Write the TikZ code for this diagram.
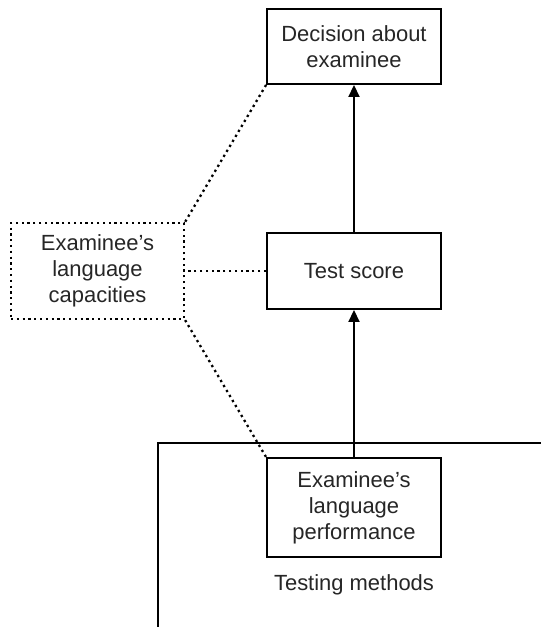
\documentclass[tikz,border=0pt]{standalone}
\usepackage{fontspec}
\setmainfont{Liberation Sans}
\usetikzlibrary{arrows.meta}
\tikzset{
  stage/.style = {draw, line width=1.1pt, minimum width=3.48cm, align=center,
                  font=\fontsize{12.5}{14.8}\selectfont, text=black!85},
  capbox/.style = {draw, dotted, line width=1.3pt, minimum width=3.46cm, minimum height=1.92cm,
                  align=center, font=\fontsize{12.5}{14.8}\selectfont, text=black!85},
  link/.style = {dotted, line width=1.3pt},
  flow/.style = {line width=1.1pt, -{Triangle[length=0.24cm, width=0.22cm]}}
}
\begin{document}
\begin{tikzpicture}[x=0.02cm, y=-0.02cm]
       \useasboundingbox (0,0) rectangle (541,627);
       \node (decision) at (354,46.5) [stage, minimum height=1.5cm] {Decision about\\examinee};
       \node (score) at (354,271) [stage, minimum height=1.52cm] {Test score};
       \node (perf) at (354,507.5) [stage, minimum height=1.98cm] {Examinee's\\language\\performance};
       \node (capac) at (97.5,271) [capbox] {Examinee's\\language\\capacities};
       \node (methods) at (354,585) [font=\fontsize{12.5}{14.8}\selectfont, text=black!85] {Testing methods};
       \coordinate (frameA) at (158,627);
       \coordinate (frameB) at (158,443);
       \coordinate (frameC) at (541,443);
       \draw [line width=1.1pt] (frameA) -- (frameB) -- (frameC);
       \draw [flow] (score.north) -- (decision.south);
       \draw [flow] (perf.north) -- (score.south);
       \draw [link] (decision.south west) -- (capac.north east);
       \draw [link] (score.west) -- (capac.east);
       \draw [link] (capac.south east) -- (perf.north west);
\end{tikzpicture}
\end{document}
